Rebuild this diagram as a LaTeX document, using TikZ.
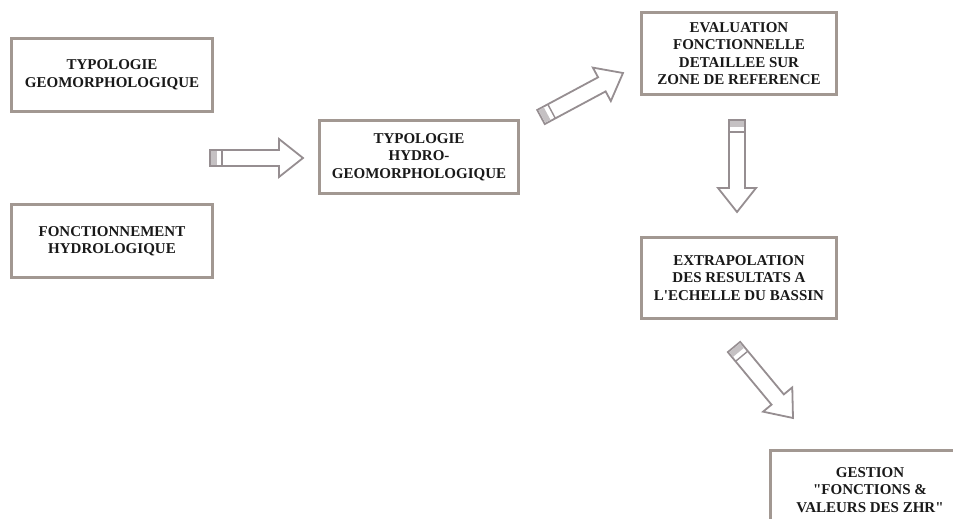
\documentclass[tikz,border=0pt]{standalone}
\usepackage{fontspec}
\setmainfont{Liberation Serif}[Ligatures=TeXOff]
\usetikzlibrary{calc}
\definecolor{boxc}{RGB}{162,152,146}
\definecolor{arrc}{RGB}{150,142,145}
\definecolor{txtc}{RGB}{25,25,25}
\tikzset{
  box/.style={draw=boxc, line width=3pt, fill=white, inner sep=0pt, align=center,
    text=txtc, font=\fontsize{15}{17.5}\selectfont\bfseries},
  pics/fatarrow/.style={code={
    \draw[arrc, line width=1.8pt, fill=white, line join=miter]
      (0,-8) -- (#1-24,-8) -- (#1-24,-19) -- (#1,0) -- (#1-24,19) -- (#1-24,8) -- (0,8) -- cycle;
    \fill[arrc!55] (0.9,-7.1) rectangle (7,7.1);
    \draw[arrc, line width=1.4pt] (12,-8) -- (12,8);
  }}
}
\begin{document}
\begin{tikzpicture}[x=1pt,y=-1pt]
\useasboundingbox (0,0) rectangle (953,519);
\clip (0,0) rectangle (953,519);
\node[box, minimum width=201pt, minimum height=73pt] (geo) at (112,75) {TYPOLOGIE\\GEOMORPHOLOGIQUE};
\node[box, minimum width=201pt, minimum height=73pt] (hyd) at (112,241) {FONCTIONNEMENT\\HYDROLOGIQUE};
\node[box, minimum width=199pt, minimum height=73pt] (hgeo) at (419,157) {TYPOLOGIE\\HYDRO-\\GEOMORPHOLOGIQUE};
\node[box, minimum width=195pt, minimum height=82pt] (eval) at (739,53.5) {EVALUATION\\FONCTIONNELLE\\DETAILLEE SUR\\ZONE DE REFERENCE};
\node[box, minimum width=195pt, minimum height=81pt] (extra) at (739,278) {EXTRAPOLATION\\DES RESULTATS A\\L'ECHELLE DU BASSIN};
\node[box, minimum width=200pt, minimum height=80pt] (gest) at (870,490) {GESTION\\"FONCTIONS \&\\VALEURS DES ZHR"};
% arrow end points
\coordinate (a1t) at (210,158);
\coordinate (a1h) at (303,158);
\coordinate (a2t) at (541,117);
\coordinate (a2h) at (623,73);
\coordinate (a3t) at (737,120);
\coordinate (a3h) at (737,212);
\coordinate (a4t) at (734,347);
\coordinate (a4h) at (793,418);
\foreach \t/\h in {a1t/a1h, a2t/a2h, a3t/a3h, a4t/a4h}{
  \path let \p1=($(\h)-(\t)$), \n1={atan2(\y1,\x1)}, \n2={veclen(\x1,\y1)} in
    (\t) pic[rotate=\n1]{fatarrow=\n2};
}
\end{tikzpicture}
\end{document}
